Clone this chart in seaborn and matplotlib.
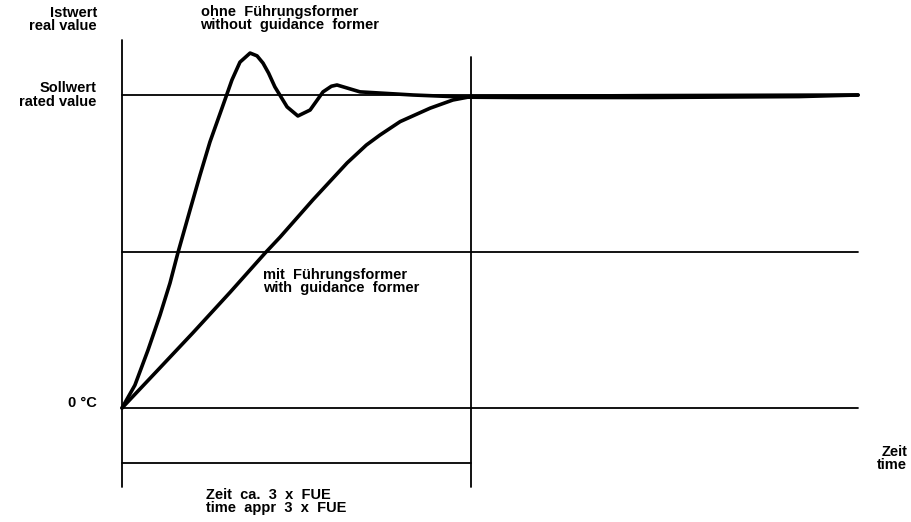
import matplotlib
matplotlib.use("Agg")
import matplotlib.pyplot as plt
import seaborn as sns
import pandas as pd

# time in units of the bracket (1.0 = "3 x FUE"), value 0 = 0 °C, 1 = rated value
t_without = [0.0, 0.037, 0.0745, 0.109, 0.1375, 0.160, 0.195, 0.2235, 0.252, 0.2865,
             0.315, 0.338, 0.367, 0.387, 0.404, 0.42, 0.438, 0.473, 0.504, 0.539,
             0.576, 0.60, 0.616, 0.682, 0.834, 0.989, 1.14, 1.51, 1.94, 2.109]
v_without = [0.0, 0.073, 0.185, 0.297, 0.399, 0.495, 0.633, 0.744, 0.850, 0.958,
             1.048, 1.105, 1.134, 1.125, 1.102, 1.07, 1.026, 0.962, 0.933, 0.952,
             1.01, 1.028, 1.032, 1.01, 1.0, 0.993, 0.992, 0.992, 0.995, 1.0]

t_with = [0.0, 0.10, 0.203, 0.31, 0.41, 0.453, 0.547, 0.645, 0.70, 0.739, 0.797, 0.883,
          0.948, 1.0, 1.5, 2.109]
v_with = [0.0, 0.118, 0.240, 0.37, 0.495, 0.546, 0.665, 0.783, 0.84, 0.872, 0.915, 0.958,
          0.984, 0.995, 0.998, 1.0]

grid_levels = [1.0, 0.5, 0.0]   # rated value, half, 0 °C
t_end = 2.109
bracket_level = -0.176
axis_bottom = -0.252
axis_top = 1.176
marker_top = 1.12

sns.set_theme(style="white")
plt.rcParams['font.family'] = ['Liberation Sans', 'DejaVu Sans']

fig = plt.figure(figsize=(9.11, 5.22), dpi=100)
ax = fig.add_axes([0, 0, 1, 1])
ax.set_xlim(-122 / 349, (911 - 122) / 349)
ax.set_ylim(-114 / 313, 408 / 313)
ax.axis("off")

df = pd.concat([
    pd.DataFrame({"t": t_without, "v": v_without, "curve": "without"}),
    pd.DataFrame({"t": t_with, "v": v_with, "curve": "with"}),
])

for lvl in grid_levels:
    ax.plot([0, t_end], [lvl, lvl], color="black", lw=1.3)
ax.plot([0, 1.0], [bracket_level, bracket_level], color="black", lw=1.3)
ax.plot([0, 0], [axis_bottom, axis_top], color="black", lw=1.3)
ax.plot([1.0, 1.0], [axis_bottom, marker_top], color="black", lw=1.3)

sns.lineplot(data=df, x="t", y="v", units="curve", estimator=None, sort=False,
             color="black", lw=2.6, ax=ax, legend=False)

fs = 10.5
bold = dict(fontsize=fs, fontweight="bold", color="black", linespacing=0.92)
ax.text(-0.072, 1.24, "Istwert\nreal value", ha="right", va="center", **bold)
ax.text(-0.072, 1.0, "Sollwert\nrated value", ha="right", va="center", **bold)
ax.text(-0.072, 0.017, "0 °C", ha="right", va="center", **bold)
ax.text(2.25, -0.16, "Zeit\ntime", ha="right", va="center", **bold)

ax.text(0.225, 1.245, "ohne  Führungsformer\nwithout  guidance  former",
        ha="left", va="center", **bold)
ax.text(0.405, 0.405, "mit  Führungsformer\nwith  guidance  former",
        ha="left", va="center", **bold)
ax.text(0.24, -0.30, "Zeit  ca.  3  x  FUE\ntime  appr  3  x  FUE",
        ha="left", va="center", **bold)

fig.savefig("out.png", dpi=100)
